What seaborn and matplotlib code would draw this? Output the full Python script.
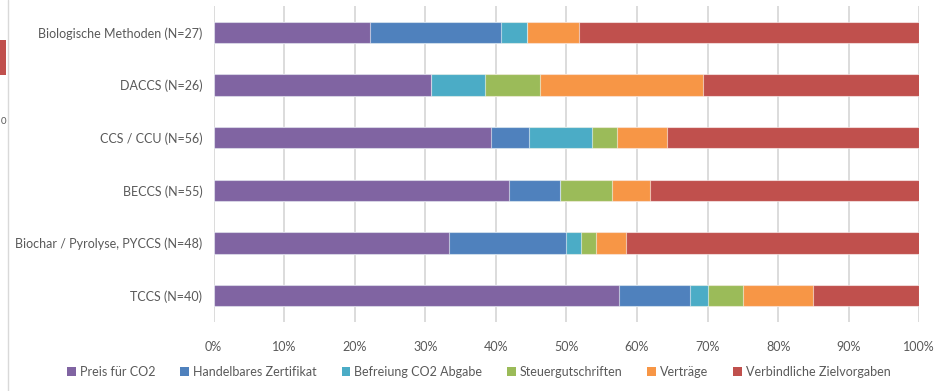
import matplotlib
matplotlib.use("Agg")
import matplotlib.pyplot as plt
from matplotlib.patches import Patch, Rectangle
from matplotlib.lines import Line2D
import numpy as np
import pandas as pd
import seaborn as sns

# Technologies (top to bottom) and share of each instrument in %
technologies = [
    "Biologische Methoden (N=27)",
    "DACCS (N=26)",
    "CCS / CCU (N=56)",
    "BECCS (N=55)",
    "Biochar / Pyrolyse, PYCCS (N=48)",
    "TCCS (N=40)",
]
instruments = [
    "Preis für CO2",
    "Handelbares Zertifikat",
    "Befreiung CO2 Abgabe",
    "Steuergutschriften",
    "Verträge",
    "Verbindliche Zielvorgaben",
]
preis = [22.2, 30.8, 39.3, 41.8, 33.3, 57.5]
zertifikat = [18.5, 0.0, 5.4, 7.3, 16.7, 10.0]
befreiung = [3.7, 7.7, 8.9, 0.0, 2.1, 2.5]
steuer = [0.0, 7.7, 3.6, 7.3, 2.1, 5.0]
vertraege = [7.4, 23.1, 7.1, 5.5, 4.2, 10.0]
ziele = [48.1, 30.8, 35.7, 38.2, 41.7, 15.0]

colors = ["#8064A2", "#4F81BD", "#4BACC6", "#9BBB59", "#F79646", "#C0504D"]
tick_labels = [f"{v}%" for v in range(0, 101, 10)]

df = pd.DataFrame(
    dict(zip(instruments, [preis, zertifikat, befreiung, steuer, vertraege, ziele])),
    index=technologies,
)
cum = df.cumsum(axis=1)

sns.set_theme(style="white")
plt.rcParams["font.family"] = ["Lato", "DejaVu Sans"]
text_color = "#595959"

fig = plt.figure(figsize=(9.39, 3.91), dpi=100)
ax = fig.add_axes([0.2274, 0.1765, 0.9790 - 0.2274, 0.9847 - 0.1765])

# Stacked bars: draw cumulative totals from the last segment backwards
for name, col in reversed(list(zip(instruments, colors))):
    sns.barplot(
        x=cum[name].values,
        y=technologies,
        order=technologies,
        orient="h",
        color=col,
        saturation=1,
        width=0.4,
        edgecolor=(1, 1, 1, 0.55),
        linewidth=0.8,
        ax=ax,
        zorder=3,
    )

ax.set_xlim(0, 100)
ax.set_ylim(5.5, -0.5)
ax.set_xticks(range(0, 101, 10))
ax.set_xticklabels(tick_labels)
ax.xaxis.grid(True, color="#D9D9D9", linewidth=1.3, zorder=0)
ax.yaxis.grid(False)
for s in ax.spines.values():
    s.set_visible(False)
ax.tick_params(axis="both", length=0, labelsize=9, colors=text_color)
ax.tick_params(axis="x", pad=14)
ax.tick_params(axis="y", pad=8)
ax.set_xlabel("")
ax.set_ylabel("")

handles = [Patch(facecolor=c, edgecolor="none") for c in colors]
fig.legend(
    handles,
    instruments,
    loc="center",
    bbox_to_anchor=(0.51, 1 - 372 / 391),
    ncol=6,
    frameon=False,
    fontsize=9,
    handlelength=0.7,
    handleheight=0.7,
    handletextpad=0.3,
    columnspacing=2.0,
    labelcolor=text_color,
)

# Edge of the neighbouring panel on the left
fig.add_artist(Line2D([7.5 / 939, 7.5 / 939], [0, 1], color="#D9D9D9", linewidth=1.0))
fig.add_artist(Rectangle((0, 1 - 75 / 391), 6 / 939, 35 / 391, facecolor="#C0504D",
                         edgecolor="none", transform=fig.transFigure))
fig.text(0.5 / 939, 1 - 121 / 391, "0", fontsize=7, color=text_color, va="center", ha="left")

fig.savefig("out.png", dpi=100)
